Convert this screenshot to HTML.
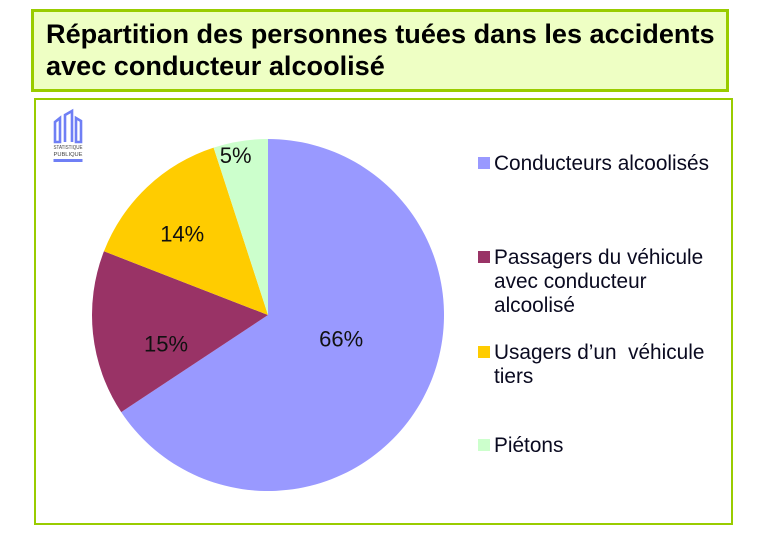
<!DOCTYPE html>
<html lang="fr">
<head>
<meta charset="utf-8">
<title>Répartition des personnes tuées</title>
<style>
html,body{margin:0;padding:0;background:#fff}
body{width:759px;height:543px;overflow:hidden;position:relative;font-family:"Liberation Sans",sans-serif;color:#0a0a14}
#title-box{position:absolute;left:31px;top:9px;width:692px;height:77px;border:3px solid #99cc00;background:#eeffc4}
#title-text{position:absolute;left:46px;top:18px;margin:0;font-size:27.1px;line-height:31.5px;font-weight:bold;white-space:nowrap;color:#000}
#panel{position:absolute;left:34px;top:98px;width:695px;height:423px;border:2px solid #99cc00;background:#fff}
#chart{position:absolute;left:0;top:0}
</style>
</head>
<body>
<div id="title-box"></div>
<h1 id="title-text">Répartition des personnes tuées dans les accidents<br>avec conducteur alcoolisé</h1>
<div id="panel"></div>
<svg id="logo" width="759" height="543" style="position:absolute;left:0;top:0">
  <path d="M55 142V122L60 118V142ZM65 142V115L72 111V142M76 142V118L81 121V142ZM55 142H60M76 142H81" fill="none" stroke="#6f7ff5" stroke-width="2.6"/>
  <text x="53.5" y="149" font-size="5" fill="#444" textLength="29" lengthAdjust="spacingAndGlyphs">STATISTIQUE</text>
  <text x="53.5" y="156" font-size="5" fill="#444" textLength="29" lengthAdjust="spacingAndGlyphs">PUBLIQUE</text>
  <rect x="53.5" y="159" width="29" height="3" fill="#6f7ff5"/>
</svg>
<svg id="chart" width="759" height="543"></svg>
<script>
var categories = ["Conducteurs alcoolisés", "Passagers du véhicule|avec conducteur|alcoolisé", "Usagers d’un  véhicule|tiers", "Piétons"];
var seriesValues = [65.7, 15.2, 14.1, 5];
var valueLabels = ["66%", "15%", "14%", "5%"];
var sliceColors = ["#9999ff", "#993366", "#ffcc00", "#ccffcc"];
var labelRadii = [0.44, 0.6, 0.66, 0.92];
var labelNudges = [[5, -12], [3, 18], [-6, 4], [-7, 1]];
var legendRows = [163, 257, 352, 445];

var NS = "http://www.w3.org/2000/svg";
var svg = document.getElementById("chart");
var cx = 268, cy = 315, radius = 176;
var total = seriesValues.reduce(function (a, b) { return a + b; }, 0);

function angleOf(value) { return value / total * 2 * Math.PI; }
function px(angle, r) { return cx + r * Math.sin(angle); }
function py(angle, r) { return cy - r * Math.cos(angle); }

var cumulative = 0;
seriesValues.forEach(function (value, i) {
  var a0 = angleOf(cumulative);
  var a1 = angleOf(cumulative + value);
  var slice = document.createElementNS(NS, "path");
  slice.setAttribute("d", "M" + cx + " " + cy + "L" + px(a0, radius) + " " + py(a0, radius) +
    "A" + radius + " " + radius + " 0 " + (a1 - a0 > Math.PI ? 1 : 0) + " 1 " + px(a1, radius) + " " + py(a1, radius) + "Z");
  slice.setAttribute("fill", sliceColors[i]);
  
  
  svg.appendChild(slice);
  cumulative += value;
});

cumulative = 0;
seriesValues.forEach(function (value, i) {
  var mid = angleOf(cumulative + value / 2);
  var label = document.createElementNS(NS, "text");
  label.setAttribute("x", px(mid, radius * labelRadii[i]) + labelNudges[i][0]);
  label.setAttribute("y", py(mid, radius * labelRadii[i]) + labelNudges[i][1] + 7);
  label.setAttribute("text-anchor", "middle");
  label.setAttribute("font-size", "22");
  label.setAttribute("fill", "#111");
  label.textContent = valueLabels[i];
  
  
  svg.appendChild(label);
  cumulative += value;
});

categories.forEach(function (name, i) {
  var y = legendRows[i];
  var swatch = document.createElementNS(NS, "rect");
  swatch.setAttribute("x", 478);
  swatch.setAttribute("y", y - 6);
  swatch.setAttribute("width", 12);
  swatch.setAttribute("height", 12);
  swatch.setAttribute("fill", sliceColors[i]);
  
  
  svg.appendChild(swatch);
  name.split("|").forEach(function (line, j) {
    var text = document.createElementNS(NS, "text");
    text.setAttribute("x", 494);
    text.setAttribute("y", y + 7 + j * 24);
    text.setAttribute("font-size", "20.8");
    text.setAttribute("fill", "#0a0a20");
    text.setAttribute("xml:space", "preserve");
    text.style.whiteSpace = "pre";
    text.textContent = line;
    
    
    svg.appendChild(text);
  });
});
</script>
</body>
</html>
